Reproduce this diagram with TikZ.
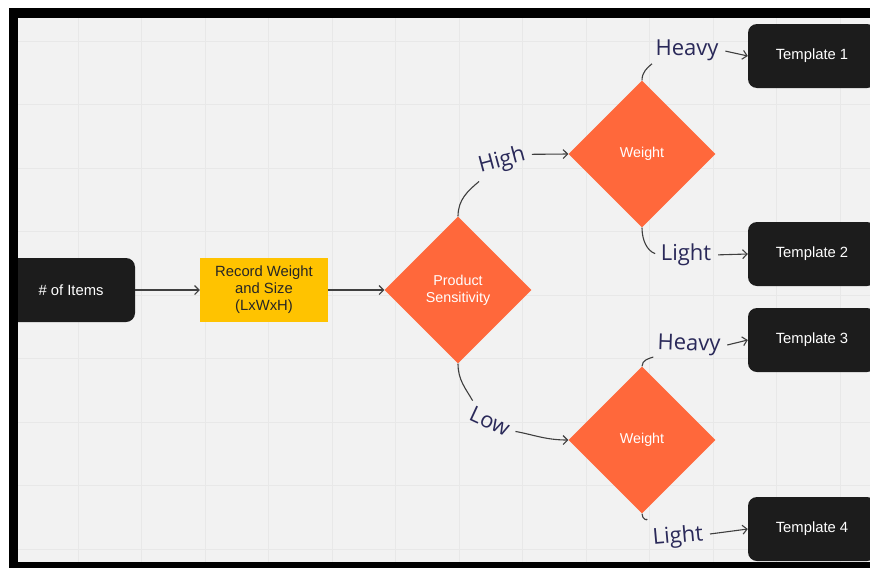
\documentclass[tikz,border=0pt]{standalone}
\usepackage{fontspec}
\setmainfont{Liberation Sans}
\newfontfamily\handfont{Open Sans}
\usetikzlibrary{shapes.geometric, arrows.meta}

\definecolor{boardbg}{HTML}{F2F2F2}
\definecolor{gridline}{HTML}{E8E8E8}
\definecolor{boxdark}{HTML}{1C1C1C}
\definecolor{boxyellow}{HTML}{FFC300}
\definecolor{decisionorange}{HTML}{FF683B}
\definecolor{labelnavy}{HTML}{2A2959}
\definecolor{wire}{HTML}{3F3F3F}

\tikzset{
  darkbox/.style={fill=boxdark, text=white, rounded corners=9pt,
    minimum width=128pt, minimum height=64pt, inner sep=0pt,
    font=\fontsize{14.8}{17}\selectfont},
  stepbox/.style={fill=boxyellow, text=black!85, minimum width=128pt,
    minimum height=64pt, inner sep=0pt, align=center,
    font=\fontsize{14.8}{17}\selectfont},
  decision/.style={diamond, aspect=1, fill=decisionorange, text=white,
    minimum width=147pt, minimum height=147pt, inner sep=0pt, align=center,
    font=\fontsize{14.3}{17}\selectfont},
  branch/.style={text=labelnavy, inner sep=1pt, outer sep=1pt,
    font=\handfont\fontsize{22}{24}\selectfont},
  wireline/.style={draw=wire, line width=1.1pt},
  wirearrow/.style={wireline, -{Straight Barb[length=4.5pt, width=9pt]}},
  fromlabel/.style={wirearrow, shorten <=5pt}
}

\begin{document}
\begin{tikzpicture}[x=1pt, y=-1pt]

\useasboundingbox (0,0) rectangle (870,568);
\clip (0,0) rectangle (870,568);

% board and grid
\fill[boardbg] (0,0) rectangle (870,568);
\foreach \k in {0,...,13} {
  \draw[gridline, line width=1pt] (14.5+63.5*\k,0) -- (14.5+63.5*\k,568);
}
\foreach \k in {0,...,8} {
  \draw[gridline, line width=1pt] (0,41+63.5*\k) -- (870,41+63.5*\k);
}

% main flow
\node[darkbox] (items) at (71,290) {\# of Items};
\node[stepbox] (record) at (264,290) {Record Weight\\and Size\\(LxWxH)};
\node[decision] (sens) at (458,290) {Product\\Sensitivity};

\node[decision] (wtop) at (642,154) {Weight};
\node[decision] (wbot) at (642,440) {Weight};

\node[darkbox] (tpl1) at (812,56) {Template 1};
\node[darkbox] (tpl2) at (812,254) {Template 2};
\node[darkbox] (tpl3) at (812,340) {Template 3};
\node[darkbox] (tpl4) at (812,529) {Template 4};

% branch labels
\node[branch, rotate=15] (lhigh) at (502,161) {High};
\node[branch, rotate=-25] (llow) at (490,421) {Low};
\node[branch] (lheavya) at (687,50) {Heavy};
\node[branch] (llighta) at (686,255) {Light};
\node[branch, rotate=-2] (lheavyb) at (689,345) {Heavy};
\node[branch, rotate=5] (llightb) at (678,537) {Light};

\draw[wirearrow] (items.east) -- (record.west);
\draw[wirearrow] (record.east) -- (sens.west);

\draw[wireline, shorten >=2pt] (sens.north) to[out=90, in=220] (lhigh.south west);
\draw[fromlabel] (lhigh.east) -- (wtop.west);
\draw[wireline, shorten >=2pt] (sens.south) to[out=-90, in=120] (llow.north west);
\draw[fromlabel] (llow.east) to[out=-10, in=180] (wbot.west);

\draw[wireline, shorten >=2pt] (wtop.north) to[out=90, in=220] (lheavya.south west);
\draw[fromlabel] (lheavya.east) -- (tpl1.west);
\draw[wireline, shorten >=4pt] (wtop.south) to[out=-90, in=160] (llighta.west);
\draw[fromlabel] (llighta.east) -- (tpl2.west);

\draw[wireline, shorten >=2pt] (wbot.north) to[out=90, in=200] (lheavyb.south west);
\draw[fromlabel] (lheavyb.east) -- (tpl3.west);
\draw[wireline, shorten >=8pt] (wbot.south) to[out=-90, in=110] (llightb.north west);
\draw[fromlabel] (llightb.east) -- (tpl4.west);

% frame
\fill[white] (0,0) rectangle (870,8);
\fill[white] (0,0) rectangle (9,568);
\fill[black] (9,8) rectangle (870,18);
\fill[black] (9,8) rectangle (18,568);
\fill[black] (9,562) rectangle (870,568);

\end{tikzpicture}
\end{document}
